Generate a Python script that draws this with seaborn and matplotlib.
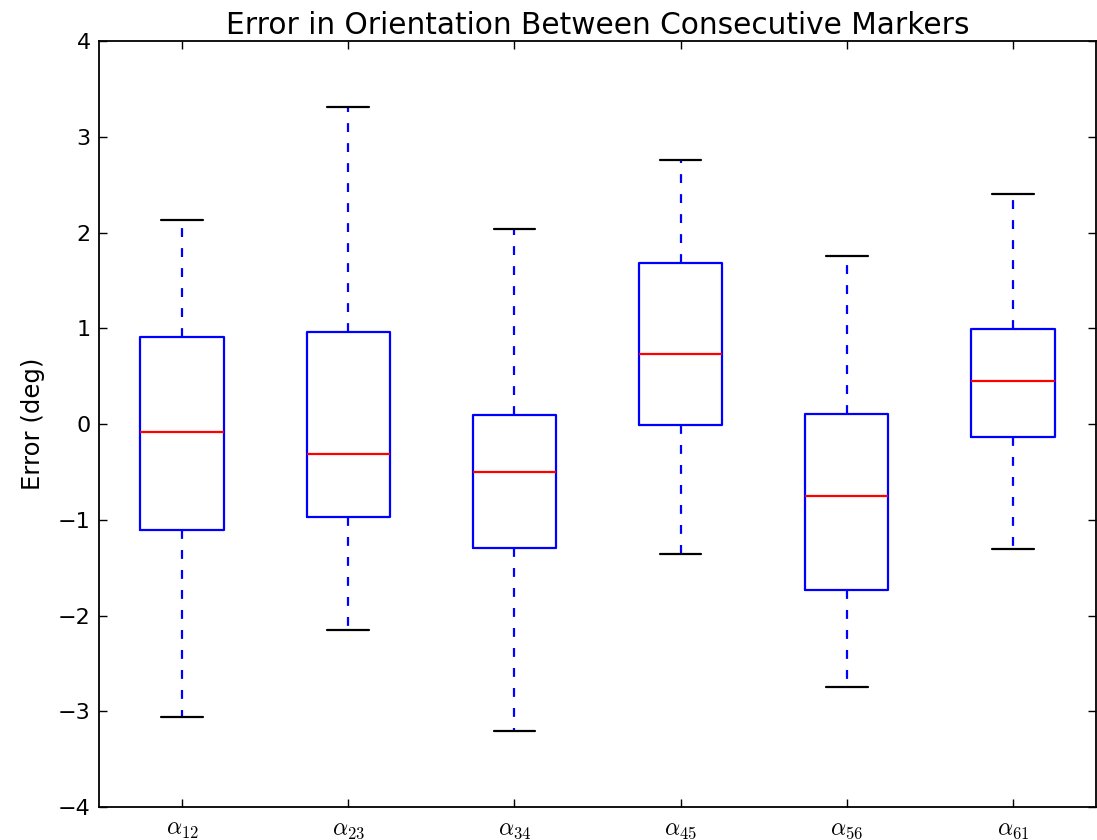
import numpy as np
import pandas as pd
import matplotlib
matplotlib.use("Agg")
import matplotlib.pyplot as plt
import seaborn as sns

# five-number summaries (deg)
labels = [r"$\alpha_{12}$", r"$\alpha_{23}$", r"$\alpha_{34}$",
          r"$\alpha_{45}$", r"$\alpha_{56}$", r"$\alpha_{61}$"]
whisker_low = [-3.06, -2.15, -3.20, -1.36, -2.74, -1.30]
q1 = [-1.10, -0.97, -1.29, -0.01, -1.73, -0.13]
median = [-0.08, -0.31, -0.50, 0.73, -0.75, 0.45]
q3 = [0.91, 0.96, 0.10, 1.68, 0.11, 0.99]
whisker_high = [2.13, 3.31, 2.04, 2.76, 1.76, 2.40]
yticks = [-4, -3, -2, -1, 0, 1, 2, 3, 4]

rows = []
for i, lab in enumerate(labels):
    for v in (whisker_low[i], q1[i], median[i], q3[i], whisker_high[i]):
        rows.append({"marker": lab, "err": v})
df = pd.DataFrame(rows)

sns.set_theme(style="ticks")
plt.rcParams["font.family"] = ["DejaVu Sans"]
plt.rcParams["mathtext.fontset"] = "cm"
for k in ("text.color", "axes.labelcolor", "xtick.color", "ytick.color"):
    plt.rcParams[k] = "black"

fig = plt.figure(figsize=(10.97, 8.4), dpi=100)
ax = fig.add_axes([0.0902, 0.039, 0.909, 0.912])

sns.boxplot(data=df, x="marker", y="err", order=labels, whis=(0, 100),
            width=0.5, fill=False, showfliers=False, ax=ax,
            boxprops=dict(color="blue", linewidth=1.6),
            medianprops=dict(color="red", linewidth=1.6),
            whiskerprops=dict(color="blue", linestyle=(0, (4, 5)), linewidth=1.6),
            capprops=dict(color="black", linewidth=1.6))

ax.set_xlim(-0.5, 5.5)
ax.set_ylim(-4, 4)
ax.set_yticks(yticks)
ax.set_xlabel("")
ax.set_ylabel("Error (deg)", fontsize=17.5, labelpad=9)
ax.set_title("Error in Orientation Between Consecutive Markers", fontsize=21.3, pad=5)
ax.tick_params(direction="in", top=True, right=True, length=6, width=1, color="black")
ax.tick_params(axis="y", labelsize=16, pad=6)
ax.tick_params(axis="x", labelsize=17, pad=7)
for sp in ax.spines.values():
    sp.set_visible(True)
    sp.set_color("black")
    sp.set_linewidth(1.3)

fig.savefig("out.png", dpi=100, facecolor="white")
